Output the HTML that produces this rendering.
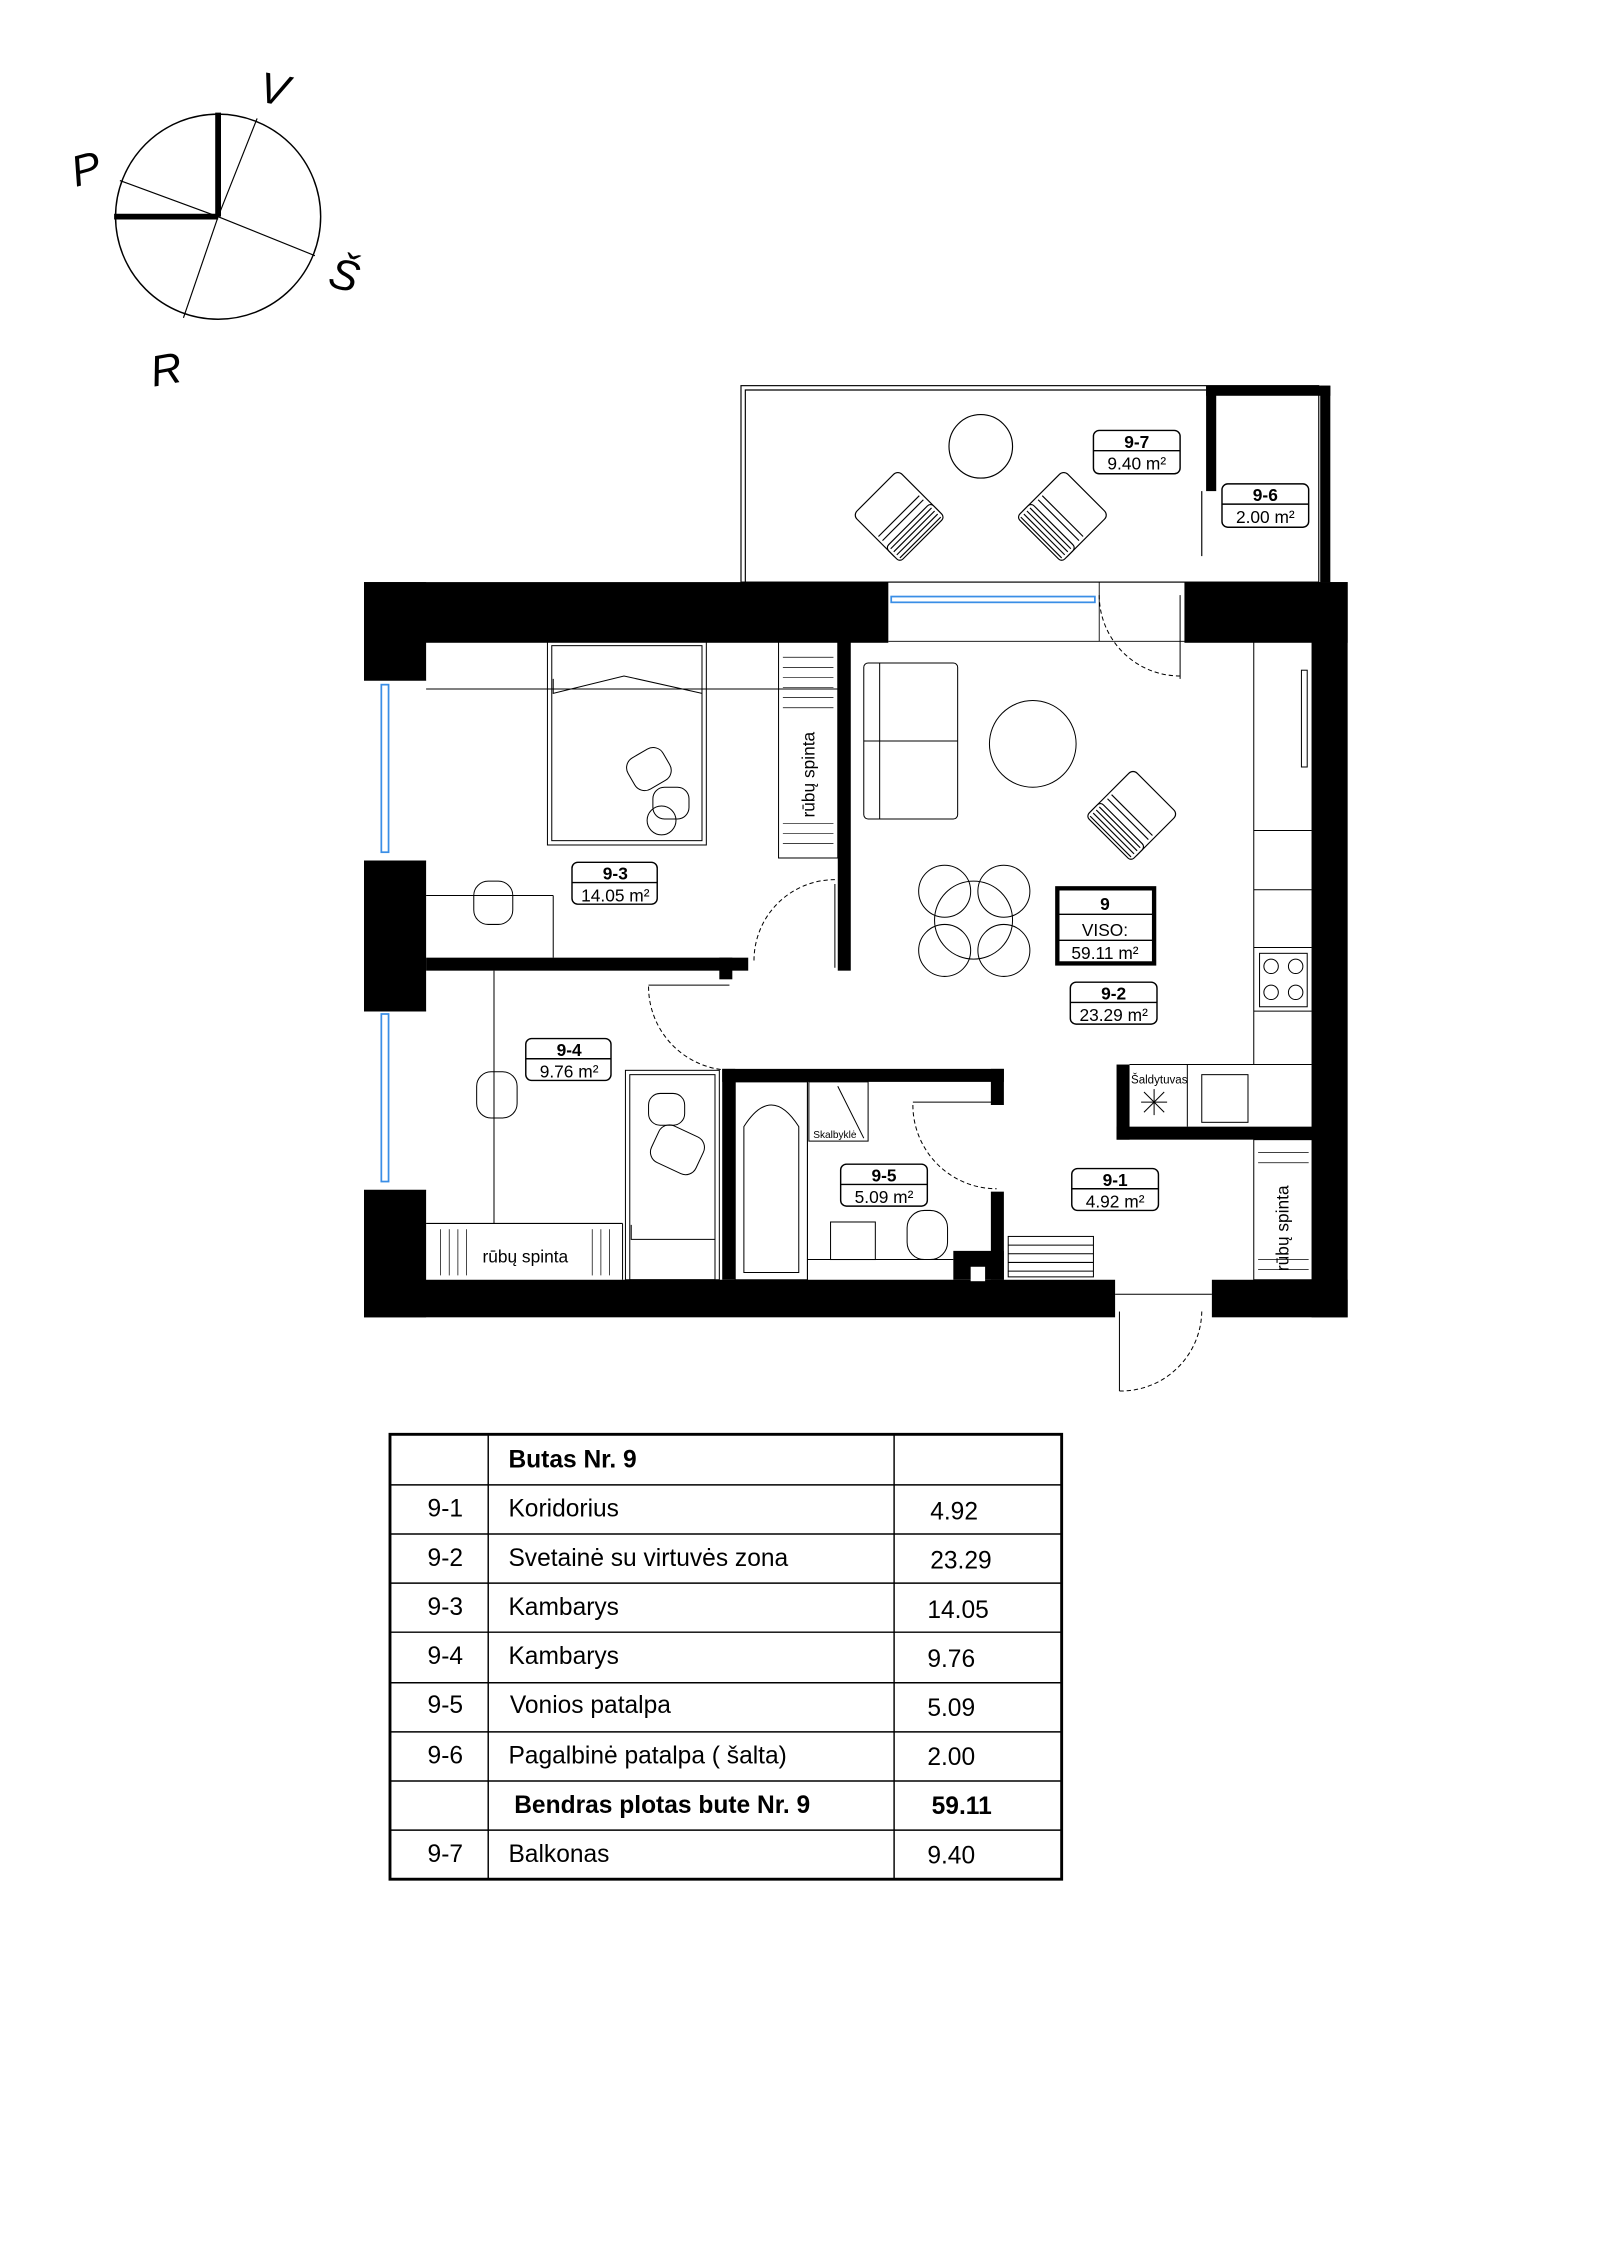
<!DOCTYPE html>
<html><head><meta charset="utf-8"><style>html,body{margin:0;padding:0;background:#fff}svg{display:block}</style></head>
<body>
<svg xmlns="http://www.w3.org/2000/svg" width="1600" height="2264" viewBox="0 0 1107.7 1567.4" font-family="Liberation Sans, sans-serif">
<rect width="1107.7" height="1567.4" fill="#fff"/>
<!-- compass -->
<g stroke="#000" fill="none">
<circle cx="151" cy="150" r="71" stroke-width="1"/>
<line x1="151" y1="150" x2="178" y2="82" stroke-width="0.8"/>
<line x1="151" y1="150" x2="218" y2="177" stroke-width="0.8"/>
<line x1="151" y1="150" x2="127" y2="220" stroke-width="0.8"/>
<line x1="151" y1="150" x2="83" y2="125" stroke-width="0.8"/>
<line x1="151" y1="150" x2="151" y2="78" stroke-width="4"/>
<line x1="151" y1="150" x2="79" y2="150" stroke-width="4"/>
</g>
<g font-size="30" font-style="italic" fill="#000">
<text x="180" y="72" transform="rotate(10 190 60)">V</text>
<text x="49" y="127" transform="rotate(-15 60 115)">P</text>
<text x="229" y="201" transform="rotate(15 240 188)">Š</text>
<text x="104" y="266" transform="rotate(-10 115 255)">R</text>
</g>
<!-- balcony -->
<g stroke="#000" fill="none" stroke-width="0.8">
<rect x="513" y="267" width="400" height="136"/>
<polyline points="516,403 516,270 835,270"/>
<line x1="832" y1="340" x2="832" y2="385"/>
<circle cx="679" cy="309" r="22"/>
</g>
<rect x="835" y="267" width="86" height="7" fill="#000"/>
<rect x="835" y="267" width="7" height="73" fill="#000"/>
<rect x="914" y="267" width="7" height="136" fill="#000"/>
<g stroke="#000" fill="#fff" stroke-width="0.8">
<g transform="translate(623,358) rotate(-45)">
<rect x="-22" y="-24" width="44" height="44" rx="4"/>
<rect x="-22" y="8" width="44" height="14" rx="3"/>
<line x1="-20" y1="11" x2="20" y2="11"/><line x1="-20" y1="14" x2="20" y2="14"/><line x1="-20" y1="17" x2="20" y2="17"/><line x1="-20" y1="20" x2="20" y2="20"/>
<line x1="-20" y1="3" x2="20" y2="3"/><line x1="-20" y1="-1" x2="20" y2="-1"/>
</g>
<g transform="translate(735,358) rotate(45)">
<rect x="-22" y="-24" width="44" height="44" rx="4"/>
<rect x="-22" y="8" width="44" height="14" rx="3"/>
<line x1="-20" y1="11" x2="20" y2="11"/><line x1="-20" y1="14" x2="20" y2="14"/><line x1="-20" y1="17" x2="20" y2="17"/><line x1="-20" y1="20" x2="20" y2="20"/>
<line x1="-20" y1="3" x2="20" y2="3"/><line x1="-20" y1="-1" x2="20" y2="-1"/>
</g>
<g transform="translate(783,565) rotate(45)">
<rect x="-22" y="-24" width="44" height="44" rx="4"/>
<rect x="-22" y="8" width="44" height="14" rx="3"/>
<line x1="-20" y1="11" x2="20" y2="11"/><line x1="-20" y1="14" x2="20" y2="14"/><line x1="-20" y1="17" x2="20" y2="17"/><line x1="-20" y1="20" x2="20" y2="20"/>
<line x1="-20" y1="3" x2="20" y2="3"/><line x1="-20" y1="-1" x2="20" y2="-1"/>
</g>
</g>
<!-- main walls -->
<g fill="#000">
<rect x="252" y="403" width="363" height="42"/>
<rect x="820" y="403" width="113" height="42"/>
<rect x="252" y="403" width="43" height="68"/>
<rect x="252" y="596" width="43" height="104"/>
<rect x="252" y="824" width="43" height="88"/>
<rect x="252" y="886" width="520" height="26"/>
<rect x="839" y="886" width="94" height="26"/>
<rect x="908" y="403" width="25" height="509"/>
<rect x="580" y="444" width="9" height="228"/>
<rect x="295" y="663" width="223" height="9"/>
<rect x="498" y="663" width="9" height="15"/>
<rect x="500" y="740" width="195" height="9"/>
<rect x="500" y="740" width="9" height="146"/>
<rect x="686" y="740" width="9" height="25"/>
<rect x="686" y="825" width="9" height="61"/>
<rect x="660" y="866" width="35" height="20"/>
<rect x="773" y="737" width="9" height="52"/>
<rect x="773" y="780" width="136" height="9"/>
</g>
<rect x="672" y="877" width="10" height="10" fill="#fff"/>
<!-- windows -->
<g stroke="#3a8ee6" fill="none" stroke-width="1.2">
<rect x="264" y="474" width="5" height="116"/>
<rect x="264" y="702" width="5" height="116"/>
<rect x="617" y="413" width="141" height="4"/>
</g>
<g stroke="#000" fill="none" stroke-width="0.6">
<line x1="252" y1="471" x2="295" y2="471"/><line x1="252" y1="596" x2="295" y2="596"/>
<line x1="252" y1="700" x2="295" y2="700"/><line x1="252" y1="824" x2="295" y2="824"/>
<line x1="615" y1="403" x2="820" y2="403"/><line x1="615" y1="444" x2="868" y2="444"/>
<line x1="761" y1="403" x2="761" y2="444"/>
<line x1="295" y1="444" x2="580" y2="444"/>
</g>
<g stroke="#000" fill="none" stroke-width="0.7">
<line x1="295" y1="477" x2="580" y2="477"/>
<rect x="379" y="444" width="110" height="141"/>
<rect x="382" y="447" width="104" height="135"/>
<polyline points="383,470 383,480 432,468 486,480 486,470"/>
<rect x="539" y="444" width="41" height="150"/>
<line x1="295" y1="620" x2="383" y2="620"/><line x1="383" y1="620" x2="383" y2="663"/>
<rect x="328" y="610" width="27" height="30" rx="10"/>
<rect x="435" y="520" width="28" height="25" rx="8" transform="rotate(-30 449 532)"/>
<rect x="452" y="545" width="25" height="22" rx="8"/>
<circle cx="458" cy="568" r="10"/>
<rect x="598" y="459" width="65" height="108" rx="3"/>
<line x1="598" y1="513" x2="663" y2="513"/><line x1="609" y1="459" x2="609" y2="567"/>
<circle cx="715" cy="515" r="30"/>
<circle cx="674" cy="637" r="27"/>
<circle cx="654" cy="617" r="18"/><circle cx="695" cy="617" r="18"/>
<circle cx="654" cy="658" r="18"/><circle cx="695" cy="658" r="18"/>
<line x1="868" y1="444" x2="868" y2="737"/>
<line x1="868" y1="575" x2="908" y2="575"/><line x1="868" y1="616" x2="908" y2="616"/>
<line x1="868" y1="656" x2="908" y2="656"/><line x1="868" y1="700" x2="908" y2="700"/>
<line x1="782" y1="737" x2="908" y2="737"/>
<rect x="872" y="660" width="33" height="37"/>
<circle cx="880" cy="669" r="5"/><circle cx="897" cy="669" r="5"/><circle cx="880" cy="687" r="5"/><circle cx="897" cy="687" r="5"/>
<rect x="901" y="464" width="4" height="67"/>
<line x1="822" y1="737" x2="822" y2="780"/>
<rect x="832" y="744" width="32" height="33"/>
<line x1="790" y1="763" x2="808" y2="763"/><line x1="799" y1="754" x2="799" y2="772"/>
<line x1="792" y1="756" x2="806" y2="770"/><line x1="806" y1="756" x2="792" y2="770"/>
<rect x="868" y="789" width="41" height="97"/>
<rect x="698" y="856" width="59" height="28"/>
<line x1="698" y1="862" x2="757" y2="862"/><line x1="698" y1="868" x2="757" y2="868"/><line x1="698" y1="874" x2="757" y2="874"/><line x1="698" y1="880" x2="757" y2="880"/>
<line x1="342" y1="672" x2="342" y2="847"/>
<line x1="295" y1="847" x2="431" y2="847"/><line x1="431" y1="847" x2="431" y2="886"/>
<rect x="433" y="741" width="65" height="145"/>
<rect x="436" y="744" width="59" height="142"/>
<polyline points="437,848 437,858 495,858"/>
<rect x="330" y="742" width="28" height="32" rx="10"/>
<rect x="449" y="757" width="25" height="22" rx="8"/>
<rect x="452" y="782" width="34" height="28" rx="8" transform="rotate(25 469 796)"/>
<rect x="509" y="749" width="50" height="137"/>
<path d="M515,881 L515,780 Q534,750 553,780 L553,881 Z"/>
<rect x="560" y="749" width="41" height="41"/>
<line x1="559" y1="749" x2="559" y2="886"/>
<line x1="559" y1="872" x2="660" y2="872"/>
<rect x="575" y="846" width="31" height="26"/>
<rect x="628" y="838" width="28" height="34" rx="12"/>
<line x1="580" y1="752" x2="598" y2="788"/>
<line x1="578" y1="612" x2="578" y2="670"/>
<path d="M522,665 A56,56 0 0 1 578,609" stroke-dasharray="3,2"/>
<line x1="449" y1="682" x2="505" y2="682"/>
<path d="M449,683 A58,58 0 0 0 507,741" stroke-dasharray="3,2"/>
<line x1="632" y1="763" x2="690" y2="763"/>
<path d="M632,765 A58,58 0 0 0 690,823" stroke-dasharray="3,2"/>
<line x1="817" y1="412" x2="817" y2="470"/>
<path d="M761,412 A56,56 0 0 0 817,468" stroke-dasharray="3,2"/>
<line x1="775" y1="908" x2="775" y2="963"/>
<path d="M775,963 A56,56 0 0 0 832,908" stroke-dasharray="3,2"/>
<line x1="772" y1="896" x2="839" y2="896"/>
</g>
<g stroke="#000" stroke-width="0.5">
<line x1="542" y1="455" x2="577" y2="455"/><line x1="542" y1="462" x2="577" y2="462"/><line x1="542" y1="469" x2="577" y2="469"/><line x1="542" y1="476" x2="577" y2="476"/><line x1="542" y1="483" x2="577" y2="483"/><line x1="542" y1="490" x2="577" y2="490"/><line x1="542" y1="570" x2="577" y2="570"/><line x1="542" y1="577" x2="577" y2="577"/><line x1="542" y1="584" x2="577" y2="584"/>
<line x1="305" y1="851" x2="305" y2="883"/><line x1="311" y1="851" x2="311" y2="883"/><line x1="317" y1="851" x2="317" y2="883"/><line x1="323" y1="851" x2="323" y2="883"/><line x1="410" y1="851" x2="410" y2="883"/><line x1="416" y1="851" x2="416" y2="883"/><line x1="422" y1="851" x2="422" y2="883"/>
<line x1="871" y1="798" x2="906" y2="798"/><line x1="871" y1="805" x2="906" y2="805"/><line x1="871" y1="872" x2="906" y2="872"/><line x1="871" y1="879" x2="906" y2="879"/>
</g>
<g font-size="12" fill="#000">
<text x="0" y="0" transform="translate(564,566) rotate(-90)">rūbų spinta</text>
<text x="334" y="874">rūbų spinta</text>
<text x="0" y="0" transform="translate(892,880) rotate(-90)">rūbų spinta</text>
<text x="783" y="750" font-size="8">Šaldytuvas</text>
<text x="563" y="788" font-size="7">Skalbyklė</text>
</g>
<g stroke="#000" fill="#fff" stroke-width="1">
<rect x="396" y="597" width="59" height="29" rx="4"/><line x1="396" y1="611" x2="455" y2="611"/>
<rect x="364" y="719" width="59" height="29" rx="4"/><line x1="364" y1="733" x2="423" y2="733"/>
<rect x="741" y="680" width="60" height="29" rx="4"/><line x1="741" y1="694" x2="801" y2="694"/>
<rect x="742" y="809" width="60" height="29" rx="4"/><line x1="742" y1="823" x2="802" y2="823"/>
<rect x="582" y="806" width="60" height="29" rx="4"/><line x1="582" y1="820" x2="642" y2="820"/>
<rect x="757" y="298" width="60" height="30" rx="4"/><line x1="757" y1="312" x2="817" y2="312"/>
<rect x="846" y="335" width="60" height="30" rx="4"/><line x1="846" y1="349" x2="906" y2="349"/>
<rect x="732" y="615" width="67" height="52" stroke-width="3"/><line x1="732" y1="633" x2="799" y2="633"/><line x1="732" y1="651" x2="799" y2="651"/>
</g>
<g font-size="12" fill="#000" text-anchor="middle">
<text x="426" y="609" font-weight="bold">9-3</text><text x="426" y="624">14.05 m²</text>
<text x="394" y="731" font-weight="bold">9-4</text><text x="394" y="746">9.76 m²</text>
<text x="771" y="692" font-weight="bold">9-2</text><text x="771" y="707">23.29 m²</text>
<text x="772" y="821" font-weight="bold">9-1</text><text x="772" y="836">4.92 m²</text>
<text x="612" y="818" font-weight="bold">9-5</text><text x="612" y="833">5.09 m²</text>
<text x="787" y="310" font-weight="bold">9-7</text><text x="787" y="325">9.40 m²</text>
<text x="876" y="347" font-weight="bold">9-6</text><text x="876" y="362">2.00 m²</text>
<text x="765" y="630" font-weight="bold">9</text><text x="765" y="648">VISO:</text><text x="765" y="664">59.11 m²</text>
</g>
<g stroke="#000" fill="none">
<rect x="270" y="993" width="465" height="308" stroke-width="2"/>
<g stroke-width="1">
<line x1="338" y1="993" x2="338" y2="1301"/><line x1="619" y1="993" x2="619" y2="1301"/>
<line x1="270" y1="1028" x2="735" y2="1028"/><line x1="270" y1="1062" x2="735" y2="1062"/>
<line x1="270" y1="1096" x2="735" y2="1096"/><line x1="270" y1="1130" x2="735" y2="1130"/>
<line x1="270" y1="1165" x2="735" y2="1165"/><line x1="270" y1="1199" x2="735" y2="1199"/>
<line x1="270" y1="1233" x2="735" y2="1233"/><line x1="270" y1="1267" x2="735" y2="1267"/>
</g></g>
<g font-size="17" fill="#000">
<text x="352" y="1016" font-weight="bold">Butas Nr. 9</text>
<text x="296" y="1050">9-1</text><text x="352" y="1050">Koridorius</text><text x="644" y="1052">4.92</text>
<text x="296" y="1084">9-2</text><text x="352" y="1084">Svetainė su virtuvės  zona</text><text x="644" y="1086">23.29</text>
<text x="296" y="1118">9-3</text><text x="352" y="1118">Kambarys</text><text x="642" y="1120">14.05</text>
<text x="296" y="1152">9-4</text><text x="352" y="1152">Kambarys</text><text x="642" y="1154">9.76</text>
<text x="296" y="1186">9-5</text><text x="353" y="1186">Vonios patalpa</text><text x="642" y="1188">5.09</text>
<text x="296" y="1221">9-6</text><text x="352" y="1221">Pagalbinė patalpa ( šalta)</text><text x="642" y="1222">2.00</text>
<text x="356" y="1255" font-weight="bold">Bendras plotas  bute Nr. 9</text><text x="645" y="1256" font-weight="bold">59.11</text>
<text x="296" y="1289">9-7</text><text x="352" y="1289">Balkonas</text><text x="642" y="1290">9.40</text>
</g>
</svg>
</body></html>
